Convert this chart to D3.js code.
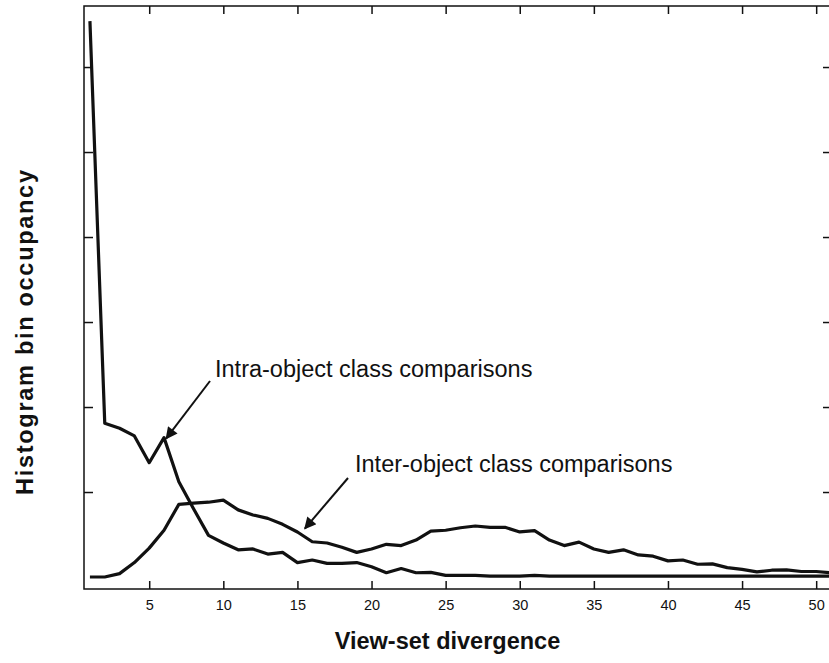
<!DOCTYPE html>
<html>
<head>
<meta charset="utf-8">
<script src="https://cdn.jsdelivr.net/npm/d3@7"></script>
<style>
  body { margin: 0; background: #fff; }
  svg { display: block; }
  text { font-family: "Liberation Sans", Arial, Helvetica, sans-serif; fill: #111; }
</style>
</head>
<body>
<svg id="chart" width="829" height="663"></svg>
<script>
// bins along the x axis
const bins = [1, 2, 3, 4, 5, 6, 7, 8, 9, 10, 11, 12, 13, 14, 15, 16, 17, 18, 19, 20,
  21, 22, 23, 24, 25, 26, 27, 28, 29, 30, 31, 32, 33, 34, 35, 36, 37, 38, 39, 40,
  41, 42, 43, 44, 45, 46, 47, 48, 49, 50, 51]

// histogram occupancy (tick units)
const intraValues = [6.54, 1.81, 1.75, 1.66, 1.345, 1.64, 1.12, 0.80, 0.49, 0.40,
  0.32, 0.33, 0.27, 0.29, 0.17, 0.20, 0.16, 0.16, 0.17, 0.12,
  0.05, 0.10, 0.05, 0.055, 0.02, 0.02, 0.02, 0.01, 0.01, 0.01,
  0.02, 0.01, 0.01, 0.01, 0.01, 0.01, 0.01, 0.01, 0.01, 0.01,
  0.01, 0.01, 0.01, 0.01, 0.01, 0.01, 0.01, 0.01, 0.01, 0.01, 0.01]

const interValues = [0, 0, 0.04, 0.17, 0.34, 0.55, 0.855, 0.87, 0.88, 0.905,
  0.79, 0.73, 0.69, 0.62, 0.53, 0.415, 0.40, 0.35, 0.29, 0.33,
  0.385, 0.37, 0.435, 0.54, 0.55, 0.58, 0.60, 0.585, 0.585, 0.53,
  0.545, 0.435, 0.37, 0.41, 0.33, 0.29, 0.32, 0.26, 0.245, 0.19,
  0.2, 0.15, 0.155, 0.11, 0.09, 0.06, 0.08, 0.085, 0.065, 0.065, 0.05]

const xTicks = [5, 10, 15, 20, 25, 30, 35, 40, 45, 50]
const yTicks = [1, 2, 3, 4, 5, 6]

const svg = d3.select('#chart')

// NOTE: plot frame; right edge sits just outside the picture
const plotLeft = 84
const plotTop = 6
const plotRight = 831
const plotBottom = 589

const x = d3.scaleLinear().domain([0.6, 51]).range([plotLeft, plotRight])
const y = d3.scaleLinear().domain([-0.141, 6.718]).range([plotBottom, plotTop])

// NOTE: frame
svg.append('rect')
  .attr('x', plotLeft).attr('y', plotTop)
  .attr('width', plotRight - plotLeft).attr('height', plotBottom - plotTop)
  .attr('fill', 'none').attr('stroke', '#111').attr('stroke-width', 1.5)

// NOTE: inward ticks on all four sides
const tickStyle = (g) => {
  g.select('.domain').remove()
  g.selectAll('.tick line').attr('stroke', '#111').attr('stroke-width', 1.5)
}

svg.append('g')
  .attr('transform', `translate(0,${plotBottom})`)
  .call(d3.axisBottom(x).tickValues(xTicks).tickSizeInner(-8).tickSizeOuter(0).tickPadding(11))
  .call(tickStyle)
  .call((g) => g.selectAll('.tick text')
    .attr('font-size', 14.5).attr('fill', '#111')
    .style('font-family', '"Liberation Sans", Arial, sans-serif'))

svg.append('g')
  .attr('transform', `translate(0,${plotTop})`)
  .call(d3.axisTop(x).tickValues(xTicks).tickSizeInner(-8).tickSizeOuter(0).tickFormat(''))
  .call(tickStyle)

svg.append('g')
  .attr('transform', `translate(${plotLeft},0)`)
  .call(d3.axisLeft(y).tickValues(yTicks).tickSizeInner(-9).tickSizeOuter(0).tickFormat(''))
  .call(tickStyle)

svg.append('g')
  .attr('transform', `translate(829,0)`)
  .call(d3.axisRight(y).tickValues(yTicks).tickSizeInner(-6).tickSizeOuter(0).tickFormat(''))
  .call(tickStyle)

// NOTE: curves
const line = d3.line()
  .x((d) => x(d[0]))
  .y((d) => y(d[1]))
  .curve(d3.curveLinear)

const series = [intraValues, interValues]
svg.append('g')
  .selectAll('path')
  .data(series)
  .join('path')
  .attr('d', (vals) => line(bins.map((b, i) => [b, vals[i]])))
  .attr('fill', 'none')
  .attr('stroke', '#111')
  .attr('stroke-width', 3.2)
  .attr('stroke-linejoin', 'round')

// NOTE: arrow heads
svg.append('defs')
  .append('marker')
  .attr('id', 'arrow')
  .attr('viewBox', '0 0 10 10')
  .attr('refX', 9).attr('refY', 5)
  .attr('markerWidth', 7).attr('markerHeight', 6)
  .attr('markerUnits', 'strokeWidth')
  .attr('orient', 'auto')
  .append('path')
  .attr('d', 'M0,0 L10,5 L0,10 Z')
  .attr('fill', '#111')

// NOTE: annotations, arrows point at bins 6 (intra) and ~15.5 (inter)
const notes = [
  { text: 'Intra-object class comparisons', tx: 215, ty: 377, from: [210, 381], at: [6.15, 1.63] },
  { text: 'Inter-object class comparisons', tx: 355, ty: 472, from: [348, 478], at: [15.5, 0.57] },
]

notes.forEach((n) => {
  svg.append('line')
    .attr('x1', n.from[0]).attr('y1', n.from[1])
    .attr('x2', x(n.at[0])).attr('y2', y(n.at[1]))
    .attr('stroke', '#111').attr('stroke-width', 2)
    .attr('marker-end', 'url(#arrow)')

  svg.append('text')
    .attr('x', n.tx).attr('y', n.ty)
    .attr('font-size', 23.5)
    .text(n.text)
})

// NOTE: axis titles
svg.append('text')
  .attr('x', 447.5).attr('y', 649)
  .attr('text-anchor', 'middle')
  .attr('font-size', 23.5)
  .attr('font-weight', 'bold')
  .text('View-set divergence')

// NOTE: the y title is set a bit wider in the source
svg.append('text')
  .attr('transform', 'translate(33,332.5) rotate(-90)')
  .attr('text-anchor', 'middle')
  .attr('font-size', 23.5)
  .attr('font-weight', 'bold')
  .attr('textLength', 325)
  .attr('lengthAdjust', 'spacing')
  .text('Histogram bin occupancy')
</script>
</body>
</html>
